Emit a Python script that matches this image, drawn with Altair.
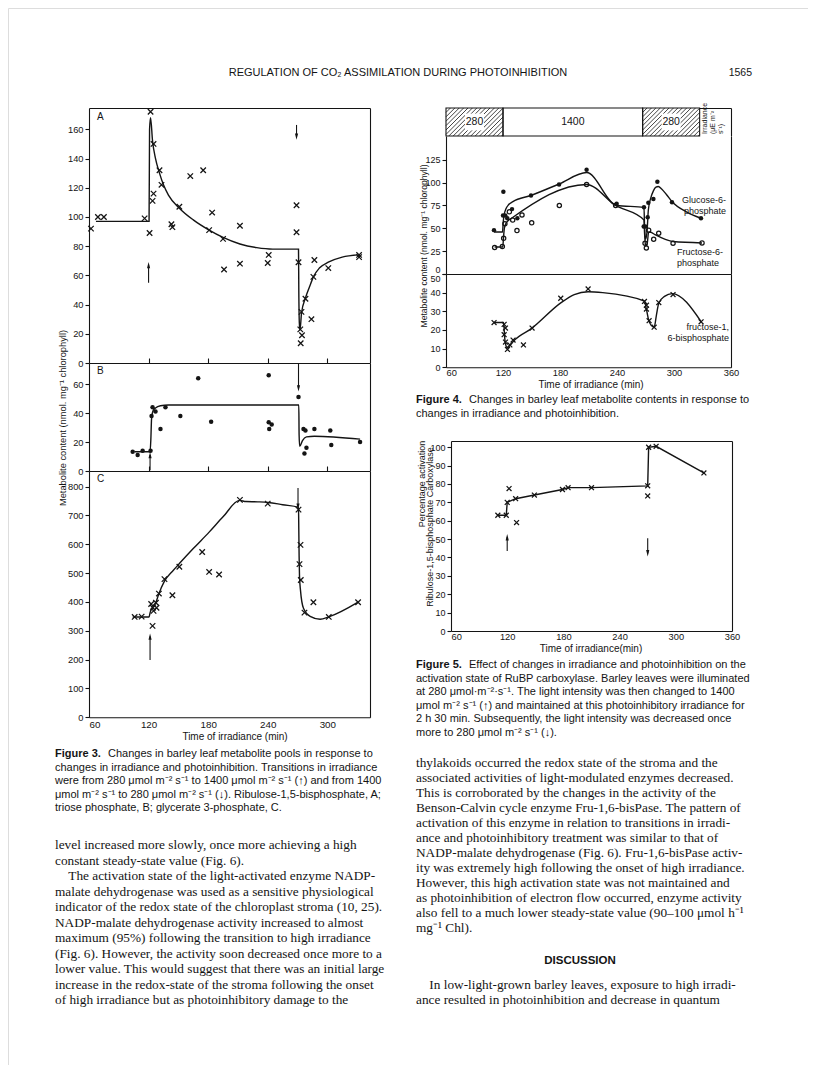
import altair as alt
import pandas as pd

# ---------------- values ----------------
# Figure 3A  ribulose-1,5-bisphosphate (x marks, fitted curve, transition arrows)
f3a_time = [62, 69, 75, 116, 121, 122, 124, 125, 125, 131, 133, 143, 144, 151, 162, 175, 181, 184, 195, 196,
            212, 212, 241, 240, 269, 269, 271, 274, 272.8, 274.5, 273.2, 278, 284, 286, 287, 301, 332, 332]
f3a_value = [92, 100, 100, 99, 89, 172, 111, 116, 150, 132, 122, 95, 93, 107, 128, 132, 91, 103, 85, 64,
             94, 68, 74, 68.5, 108, 89.5, 69, 35, 23, 19, 13.5, 44, 30, 59, 70.5, 65, 74, 72.5]
f3a_curve_time = [67, 112, 120.5, 121, 122, 124, 127, 131, 135, 140, 151, 165, 181, 195, 212, 229, 245, 271,
                  271.3, 271.8, 272.5, 274, 278, 282, 286, 292, 301, 315, 331]
f3a_curve_value = [97, 97, 97, 160, 168, 152, 140, 130, 122, 115, 106, 98, 91, 86, 81.5, 79, 78, 78,
                   50, 28, 22.5, 34, 44.5, 52, 59, 65, 69, 72.5, 74]
f3a_arrow_time = [120, 269]
f3a_arrow_from = [55, 163]
f3a_arrow_to = [67, 155]

# Figure 3B  triose phosphate
f3b_time = [104, 109, 114, 122, 123, 124, 127, 132, 137, 152, 170, 183, 241, 241, 244, 241.5, 271, 276, 278,
            279, 277, 287, 303, 304, 333]
f3b_value = [13.3, 11, 14, 14, 38, 44, 41, 29, 44, 38, 64, 34, 66, 33.6, 32, 29, 51, 29, 28, 16, 12, 29, 28, 18, 20]
f3b_curve_time = [106, 121.5, 122.3, 123, 124.5, 127, 132, 140, 271.3, 271.6, 272.2, 275, 279, 287, 333]
f3b_curve_value = [13.3, 13.3, 22, 36, 41.5, 43.5, 45, 45.5, 45.5, 25, 17, 21, 23.5, 24, 22]
f3b_arrow_time = [121.5, 271]
f3b_arrow_from = [0.5, 74]
f3b_arrow_to = [11, 57]

# Figure 3C  glycerate 3-phosphate
f3c_time = [106, 113, 122.6, 124, 124.3, 125, 127.4, 128, 130.4, 136, 144, 151, 174, 181, 191, 212, 240, 271,
            273, 272, 273.3, 277, 286, 301.5, 331]
f3c_value = [348, 349, 393, 317, 380, 369, 397, 380, 429, 479, 423, 522, 573, 504, 495, 754, 741, 720, 598,
             531, 476, 363, 399, 348, 399]
f3c_curve_time = [104, 120.5, 121.5, 123, 127, 130, 136, 145, 151, 165, 181, 195, 211.6, 218, 230, 240.4, 255,
                  271, 271.3, 271.6, 272, 273, 276, 282.7, 292.8, 301.5, 331]
f3c_curve_value = [348, 348, 362, 376, 395, 425, 472, 510, 533, 585, 642, 695, 752, 748, 747, 745, 737,
                   728, 650, 560, 490, 440, 378, 350, 340, 348, 399]
f3c_arrow_time = [121.5, 270.5]
f3c_arrow_from = [199, 795]
f3c_arrow_to = [280, 730]

# Figure 4  irradiance regime
irr_start = [60, 120, 267]
irr_end = [120, 267, 327]
irr_label = ["280", "1400", "280"]
irr_hatched = [True, False, True]

# Figure 4  glucose-6-phosphate (filled circles)
g6p_time = [110.5, 120.4, 120, 122.4, 124.5, 129.5, 135.1, 149.5, 179, 208, 239.6, 268.4, 268.1, 269.8, 272.3,
            273, 278.3, 282.5, 297.9, 328.4]
g6p_value = [48, 90, 64, 64, 61, 71, 61, 86, 98, 114, 77, 73, 52, 52, 62, 78, 82, 101, 78.5, 61]
g6p_curve_time = [110.5, 119.5, 120.2, 121, 123, 126, 130.4, 149.5, 179, 208, 239.6, 268.4, 269, 270, 271.5,
                  273, 275.5, 278.3, 281, 283.5, 287, 292, 298, 313, 328.4]
g6p_curve_value = [46, 46, 56, 64, 71, 76, 79.2, 86, 98.5, 111, 75, 73, 52, 38, 45, 70, 83, 91, 95, 95.7, 93,
                   87, 79, 68, 61]

# Figure 4  fructose-6-phosphate (open circles)
f6p_time = [111.2, 119.3, 120.7, 122, 126.7, 130.2, 134.7, 140, 150.2, 179.3, 208, 238.6, 269.5, 270.9, 273.3,
            278.6, 283.9, 299, 329.5]
f6p_value = [29, 30, 39, 55, 68, 59, 47.5, 64.6, 56, 75, 98, 75, 33.6, 28.5, 48, 38, 44.6, 33.6, 34]
f6p_curve_time = [111.2, 119.8, 120.4, 121.2, 122.5, 125, 129, 208, 238.6, 268.4, 269, 270, 271.5, 273.3, 276,
                  280, 286, 299, 329.5]
f6p_curve_value = [29.5, 29.5, 38, 48, 54, 58, 61, 98, 75, 59, 45, 32, 31, 46, 45.5, 43, 40, 35.5, 34]

# Figure 4  fructose-1,6-bisphosphate (x marks)
fbp_time = [110.6, 121.2, 122.6, 121.2, 122.6, 124.7, 127.2, 130.6, 141.5, 150.6, 180.8, 209.6, 268.9, 271,
            271, 273.8, 279.1, 284, 299, 328.5]
fbp_value = [24, 23, 21, 17.5, 13.5, 9.6, 12, 14.6, 12, 21, 37, 42, 35.3, 33.3, 31.2, 25, 21.5, 34.7, 39, 24.4]
fbp_curve_time = [110.6, 120.5, 121, 121.6, 122.5, 124.5, 127, 131, 150.6, 180.8, 195, 209.6, 225, 268.9, 271,
                  273.5, 276, 279.1, 281.5, 284, 290, 298, 328.5]
fbp_curve_value = [24, 24, 22, 17, 13, 10.5, 11.5, 14, 21, 34.5, 39, 40.5, 40, 35.5, 31, 25, 22.5, 21.5, 28,
                   34.5, 38, 39.5, 24.5]

# Figure 5  percentage activation of RuBP carboxylase
rub_time = [110, 119, 120, 122, 129, 130, 149, 179, 185, 210, 270, 270, 271, 279, 330]
rub_value = [63, 63, 70, 77.5, 72, 59, 74, 77, 78, 78, 79, 73.5, 100, 100.5, 86]
rub_line_time = [110, 119, 120, 129, 149, 179, 185, 210, 270, 271, 279, 330]
rub_line_value = [63, 63, 70, 72, 74, 77, 78, 78, 79, 100, 100.5, 86]
rub_arrow_time = [120, 270]
rub_arrow_from = [43.5, 50.5]
rub_arrow_to = [51, 42.3]

# ---------------- text ----------------
# zero-width space keeps the paragraph indent from being trimmed away
INDENT = "\u200b\u00a0\u00a0\u00a0\u00a0"
header = "REGULATION OF CO\u2082 ASSIMILATION DURING PHOTOINHIBITION"
page_no = "1565"
time_title = "Time of irradiance (min)"
metab_title = "Metabolite content (nmol. mg\u207b\u00b9 chlorophyll)"

fig3_bold = "Figure 3."
fig3_first = "Changes in barley leaf metabolite pools in response to"
fig3_more = [
    "changes in irradiance and photoinhibition. Transitions in irradiance",
    "were from 280 \u03bcmol m\u207b\u00b2 s\u207b\u00b9 to 1400 \u03bcmol m\u207b\u00b2 s\u207b\u00b9 (\u2191) and from 1400",
    "\u03bcmol m\u207b\u00b2 s\u207b\u00b9 to 280 \u03bcmol m\u207b\u00b2 s\u207b\u00b9 (\u2193). Ribulose-1,5-bisphosphate, A;",
    "triose phosphate, B; glycerate 3-phosphate, C.",
]
fig4_bold = "Figure 4."
fig4_first = "Changes in barley leaf metabolite contents in response to"
fig4_more = ["changes in irradiance and photoinhibition."]
fig5_bold = "Figure 5."
fig5_first = "Effect of changes in irradiance and photoinhibition on the"
fig5_more = [
    "activation state of RuBP carboxylase. Barley leaves were illuminated",
    "at 280 \u03bcmol\u00b7m\u207b\u00b2\u00b7s\u207b\u00b9. The light intensity was then changed to 1400",
    "\u03bcmol m\u207b\u00b2 s\u207b\u00b9 (\u2191) and maintained at this photoinhibitory irradiance for",
    "2 h 30 min. Subsequently, the light intensity was decreased once",
    "more to 280 \u03bcmol m\u207b\u00b2 s\u207b\u00b9 (\u2193).",
]
body_left = [
    "level increased more slowly, once more achieving a high",
    "constant steady-state value (Fig. 6).",
    INDENT + "The activation state of the light-activated enzyme NADP-",
    "malate dehydrogenase was used as a sensitive physiological",
    "indicator of the redox state of the chloroplast stroma (10, 25).",
    "NADP-malate dehydrogenase activity increased to almost",
    "maximum (95%) following the transition to high irradiance",
    "(Fig. 6). However, the activity soon decreased once more to a",
    "lower value. This would suggest that there was an initial large",
    "increase in the redox-state of the stroma following the onset",
    "of high irradiance but as photoinhibitory damage to the",
]
body_right = [
    "thylakoids occurred the redox state of the stroma and the",
    "associated activities of light-modulated enzymes decreased.",
    "This is corroborated by the changes in the activity of the",
    "Benson-Calvin cycle enzyme Fru-1,6-bisPase. The pattern of",
    "activation of this enzyme in relation to transitions in irradi-",
    "ance and photoinhibitory treatment was similar to that of",
    "NADP-malate dehydrogenase (Fig. 6). Fru-1,6-bisPase activ-",
    "ity was extremely high following the onset of high irradiance.",
    "However, this high activation state was not maintained and",
    "as photoinhibition of electron flow occurred, enzyme activity",
    "also fell to a much lower steady-state value (90\u2013100 \u03bcmol h\u207b\u00b9",
    "mg\u207b\u00b9 Chl).",
]
discussion_head = "DISCUSSION"
discussion = [
    INDENT + "In low-light-grown barley leaves, exposure to high irradi-",
    "ance resulted in photoinhibition and decrease in quantum",
]

# ---------------- layout ----------------
OX = OY = 8
W, H = 800, 1057
INK = "#141414"
SANS = "Liberation Sans"
SERIF = "Liberation Serif"
TICKFONT = 9.3


def lin(d0, d1, p0, p1, off):
    return alt.Scale(domain=[d0, d1], range=[p0 - off, p1 - off], nice=False, zero=False)


F3X = lin(60, 343, 89, 370, OX)
F3A_Y = lin(0, 174.6, 363, 108, OY)
F3B_Y = lin(0, 74.5, 471, 363, OY)
F3C_Y = lin(0, 854, 717.3, 471, OY)
F4X = lin(60, 360, 446, 731, OX)
F4IRR_Y = lin(0, 1, 136, 108, OY)
F4U_Y = lin(0, 151, 274, 136, OY)
F4L_Y = lin(0, 50, 367.3, 274, OY)
F5X = lin(60, 360, 451, 732, OX)
F5Y = lin(0, 103.4, 631, 441, OY)


def axis(orient, at, **kw):
    if orient == "left":
        off = -(at - OX)
    elif orient == "right":
        off = (at - OX) - W
    elif orient == "top":
        off = -(at - OY)
    else:
        off = (at - OY) - H
    opts = dict(grid=False, title=None, domainColor=INK, domainWidth=1.1, tickColor=INK, tickWidth=1.1,
                tickSize=4, labelFont=SANS, labelFontSize=TICKFONT, labelColor=INK, labelPadding=2)
    opts.update(kw)
    return alt.Axis(orient=orient, offset=off, **opts)


def frame(orient, at):
    return axis(orient, at, ticks=False, labels=False)


FIRST_LEFT = {"condition": {"test": "datum.value == 60", "value": "left"}, "value": "center"}

XMARK = "M-1,-1L1,1M-1,1L1,-1"
UP = "M0,-1L0.5,1L-0.5,1Z"
DOWN = "M0,1L0.5,-1L-0.5,-1Z"


def marks(t, v, xs, ys, shape, filled, size, xaxis=None, yaxis=None):
    d = pd.DataFrame({"t": t, "v": v})
    return alt.Chart(d).mark_point(shape=shape, filled=filled, size=size, color=INK, opacity=1,
                                   strokeWidth=1.25).encode(
        x=alt.X("t:Q", scale=xs, axis=xaxis), y=alt.Y("v:Q", scale=ys, axis=yaxis))


def curve(t, v, xs, ys, interp="monotone", xaxis=None, yaxis=None):
    d = pd.DataFrame({"t": t, "v": v})
    return alt.Chart(d).mark_line(color=INK, strokeWidth=1.4, interpolate=interp).encode(
        x=alt.X("t:Q", scale=xs, axis=xaxis), y=alt.Y("v:Q", scale=ys, axis=yaxis))


def arrows(t, y0, y1, xs, ys):
    d = pd.DataFrame({"t": t, "y0": y0, "y1": y1})
    d["dir"] = ["up" if b > a else "down" for a, b in zip(y0, y1)]
    rule = alt.Chart(d).mark_rule(color=INK, strokeWidth=1.1).encode(
        x=alt.X("t:Q", scale=xs, axis=None), y=alt.Y("y0:Q", scale=ys, axis=None), y2="y1:Q")
    head = alt.Chart(d).mark_point(filled=True, size=40, color=INK, opacity=1, strokeWidth=0).encode(
        x=alt.X("t:Q", scale=xs, axis=None), y=alt.Y("y1:Q", scale=ys, axis=None),
        shape=alt.Shape("dir:N", scale=alt.Scale(domain=["up", "down"], range=[UP, DOWN]), legend=None))
    return [rule, head]


def text_lines(lines, x, y_first, y_last=None, size=12, font=SERIF, weight="normal", align="left", angle=0):
    n = len(lines)
    d = pd.DataFrame({"i": list(range(n)), "s": lines})
    if n > 1:
        y = alt.Y("i:Q", scale=alt.Scale(domain=[0, n - 1], range=[y_first - OY, y_last - OY],
                                          nice=False, zero=False), axis=None)
    else:
        y = alt.value(y_first - OY)
    return alt.Chart(d).mark_text(font=font, fontSize=size, fontWeight=weight, align=align,
                                  baseline="middle", angle=angle, color=INK).encode(
        x=alt.value(x - OX), y=y, text="s:N")


layers = []

# ---------- Figure 3 ----------
layers += [
    marks(f3a_time, f3a_value, F3X, F3A_Y, XMARK, False, 30,
          xaxis=frame("top", 108), yaxis=axis("left", 89, values=list(range(0, 161, 20)))),
    curve(f3a_curve_time, f3a_curve_value, F3X, F3A_Y, yaxis=frame("right", 370)),
]
layers += arrows(f3a_arrow_time, f3a_arrow_from, f3a_arrow_to, F3X, F3A_Y)
layers += [
    marks(f3b_time, f3b_value, F3X, F3B_Y, "circle", True, 20,
          xaxis=axis("top", 363, labels=False, values=[120, 180, 240, 300], tickSize=5),
          yaxis=axis("left", 89, values=[0, 20, 40, 60])),
    curve(f3b_curve_time, f3b_curve_value, F3X, F3B_Y, yaxis=frame("right", 370)),
]
layers += arrows(f3b_arrow_time, f3b_arrow_from, f3b_arrow_to, F3X, F3B_Y)
layers += [
    marks(f3c_time, f3c_value, F3X, F3C_Y, XMARK, False, 30,
          xaxis=axis("top", 471, labels=False, values=[120, 180, 240, 300], tickSize=5),
          yaxis=axis("left", 89, values=list(range(0, 801, 100)))),
    curve(f3c_curve_time, f3c_curve_value, F3X, F3C_Y,
          xaxis=axis("bottom", 717.3, values=[60, 120, 180, 240, 300], ticks=False, labelPadding=2,
                     labelFlush=False, labelAlign=FIRST_LEFT, labelFontSize=9.8),
          yaxis=frame("right", 370)),
]
layers += arrows(f3c_arrow_time, f3c_arrow_from, f3c_arrow_to, F3X, F3C_Y)
layers += [
    text_lines(["A"], 97, 117, size=10, font=SANS),
    text_lines(["B"], 97, 371, size=10, font=SANS),
    text_lines(["C"], 97, 479, size=10, font=SANS),
    text_lines([metab_title], 63, 418, size=9.3, font=SANS, align="center", angle=270),
    text_lines([time_title], 235, 737, size=10, font=SANS, align="center"),
]

# ---------- Figure 4 ----------
irr = pd.DataFrame({"s": irr_start, "e": irr_end, "lab": irr_label, "h": irr_hatched})
irr["lo"] = 0.0
irr["hi"] = 1.0
irr["mid"] = (irr["s"] + irr["e"]) / 2
irr["ctr"] = 0.5

span = 28 / 0.95
step = 4.4 / 0.95
hatch_rows = []
for s, e, h in zip(irr_start, irr_end, irr_hatched):
    if not h:
        continue
    k = s - span
    while k < e:
        x0, y0, x1, y1 = k, 0.0, k + span, 1.0
        if x0 < s:
            y0 = (s - k) / span
            x0 = s
        if x1 > e:
            y1 = (e - k) / span
            x1 = e
        if x1 > x0:
            hatch_rows.append({"x0": x0, "y0": y0, "x1": x1, "y1": y1})
        k += step
hatch = pd.DataFrame(hatch_rows)
patch = irr[irr["h"]].copy()
patch["a"] = patch["mid"] - 10
patch["b"] = patch["mid"] + 10
patch["p0"] = 0.2
patch["p1"] = 0.8

layers += [
    alt.Chart(irr).mark_rect(fill="white", strokeWidth=0).encode(
        x=alt.X("s:Q", scale=F4X, axis=frame("top", 108)), x2="e:Q",
        y=alt.Y("lo:Q", scale=F4IRR_Y, axis=frame("right", 731)), y2="hi:Q"),
    alt.Chart(hatch).mark_rule(color=INK, strokeWidth=0.8).encode(
        x=alt.X("x0:Q", scale=F4X, axis=None), x2="x1:Q",
        y=alt.Y("y0:Q", scale=F4IRR_Y, axis=None), y2="y1:Q"),
    alt.Chart(patch).mark_rect(fill="white", strokeWidth=0).encode(
        x=alt.X("a:Q", scale=F4X, axis=None), x2="b:Q",
        y=alt.Y("p0:Q", scale=F4IRR_Y, axis=None), y2="p1:Q"),
    alt.Chart(irr).mark_rect(fill="transparent", stroke=INK, strokeWidth=1.1).encode(
        x=alt.X("s:Q", scale=F4X, axis=None), x2="e:Q",
        y=alt.Y("lo:Q", scale=F4IRR_Y, axis=None), y2="hi:Q"),
    alt.Chart(irr).mark_text(font=SANS, fontSize=10.5, color=INK, baseline="middle").encode(
        x=alt.X("mid:Q", scale=F4X, axis=None), y=alt.Y("ctr:Q", scale=F4IRR_Y, axis=None), text="lab:N"),
]

layers += [
    marks(g6p_time, g6p_value, F4X, F4U_Y, "circle", True, 20,
          yaxis=axis("left", 446, values=[0, 25, 50, 75, 100, 125], labelFontSize=9,
                     labelBaseline={"condition": {"test": "datum.value == 0", "value": "bottom"},
                                    "value": "middle"})),
    marks(f6p_time, f6p_value, F4X, F4U_Y, "circle", False, 18, yaxis=frame("right", 731)),
    curve(g6p_curve_time, g6p_curve_value, F4X, F4U_Y),
    curve(f6p_curve_time, f6p_curve_value, F4X, F4U_Y),
    marks(fbp_time, fbp_value, F4X, F4L_Y, XMARK, False, 24,
          xaxis=frame("top", 274),
          yaxis=axis("left", 446, values=[0, 10, 20, 30, 40, 50], labelFontSize=9,
                     labelBaseline={"condition": {"test": "datum.value == 50", "value": "top"},
                                    "value": "middle"})),
    curve(fbp_curve_time, fbp_curve_value, F4X, F4L_Y,
          xaxis=axis("bottom", 367.3, values=[60, 120, 180, 240, 300, 360], ticks=False, labelPadding=1,
                     labelFlush=False, labelAlign=FIRST_LEFT),
          yaxis=frame("right", 731)),
    text_lines(["Irradiance"], 705, 134, size=7, font=SANS, angle=270),
    text_lines(["(\u03bcE m\u207b\u00b2"], 713, 134, size=7, font=SANS, angle=270),
    text_lines(["s\u207b\u00b9)"], 721, 134, size=7, font=SANS, angle=270),
    text_lines(["Glucose-6-", "phosphate"], 726, 200, 211, size=9, font=SANS, align="right"),
    text_lines(["Fructose-6-", "phosphate"], 677, 252, 263, size=9, font=SANS),
    text_lines(["fructose-1,", "6-bisphosphate"], 729, 327, 338, size=9, font=SANS, align="right"),
    text_lines([metab_title], 424, 246, size=8.6, font=SANS, align="center", angle=270),
    text_lines([time_title], 591, 385, size=10, font=SANS, align="center"),
]

# ---------- Figure 5 ----------
layers += [
    marks(rub_time, rub_value, F5X, F5Y, XMARK, False, 24,
          xaxis=axis("bottom", 631, values=[60, 120, 180, 240, 300, 360], ticks=False, labelPadding=1,
                     labelFlush=False, labelAlign=FIRST_LEFT),
          yaxis=axis("left", 451, values=list(range(0, 101, 10)), labelFontSize=9)),
    curve(rub_line_time, rub_line_value, F5X, F5Y, interp="linear",
          xaxis=frame("top", 441), yaxis=frame("right", 732)),
]
layers += arrows(rub_arrow_time, rub_arrow_from, rub_arrow_to, F5X, F5Y)
layers += [
    text_lines(["Percentage activation"], 422, 484, size=9, font=SANS, align="center", angle=270),
    text_lines(["Ribulose-1,5-bisphosphate Carboxylase"], 430, 527, size=9, font=SANS, align="center",
               angle=270),
    text_lines(["Time of irradiance(min)"], 591, 649, size=10, font=SANS, align="center"),
]

# ---------- page text ----------
CAP = 11
BODY = 13.3
layers += [
    text_lines([header], 398, 73, size=11, font=SANS, align="center"),
    text_lines([page_no], 752, 73, size=10.5, font=SANS, align="right"),
    text_lines([fig3_bold], 55, 754, size=11, font=SANS, weight="bold"),
    text_lines([fig3_first], 108, 754, size=CAP, font=SANS),
    text_lines(fig3_more, 55, 767.5, 808, size=CAP, font=SANS),
    text_lines([fig4_bold], 416, 400, size=11, font=SANS, weight="bold"),
    text_lines([fig4_first], 469, 400, size=CAP, font=SANS),
    text_lines(fig4_more, 416, 414, size=CAP, font=SANS),
    text_lines([fig5_bold], 416, 665, size=11, font=SANS, weight="bold"),
    text_lines([fig5_first], 469, 665, size=CAP, font=SANS),
    text_lines(fig5_more, 416, 678.5, 732.5, size=CAP, font=SANS),
    text_lines(body_left, 55, 845, 1000, size=BODY),
    text_lines(body_right, 416, 763, 928, size=BODY),
    text_lines([discussion_head], 580, 961, size=11.5, font=SANS, weight="bold", align="center"),
    text_lines(discussion, 416, 985, 1000, size=BODY),
]

chart = alt.layer(*layers).properties(
    width=W, height=H, autosize=alt.AutoSizeParams(type="none"), padding=0
).resolve_scale(x="independent", y="independent").resolve_axis(
    x="independent", y="independent"
).configure_view(strokeWidth=0, stroke="transparent").configure(background="white")

chart.save("out.html", embed_options={"renderer": "svg", "actions": False})
